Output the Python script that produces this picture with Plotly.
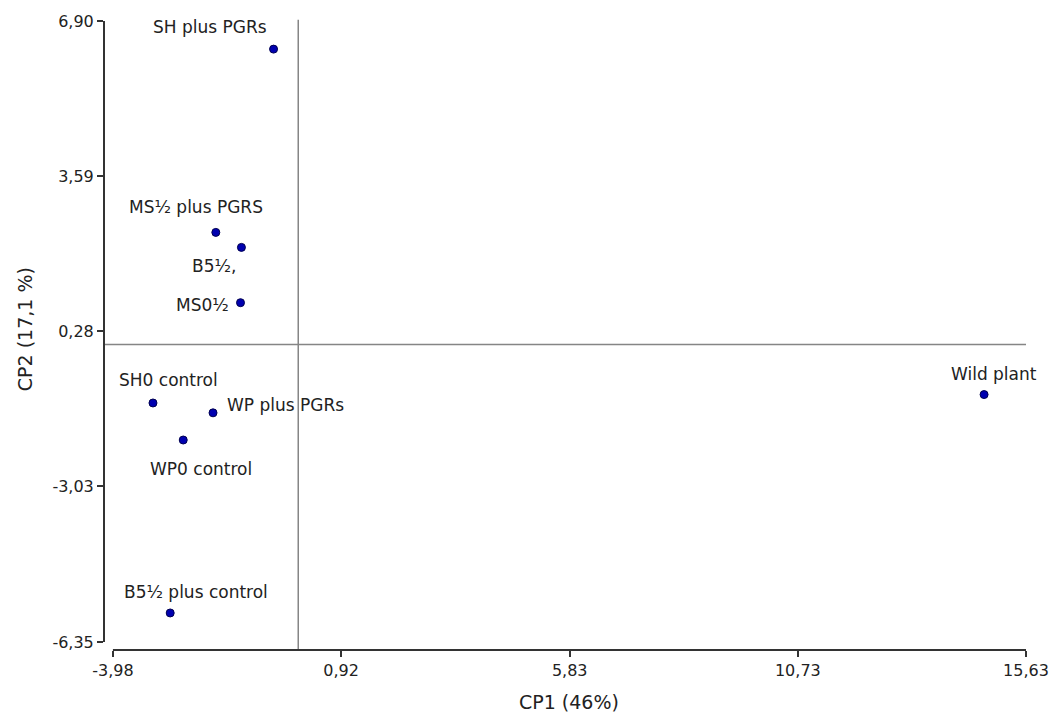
import plotly.graph_objects as go

# ---- data ----
names = ["SH plus PGRs", "MS½ plus PGRS", "B5½,", "MS0½", "SH0 control",
         "WP plus PGRs", "WP0 control", "Wild plant", "B5½ plus control"]
cp1 = [-0.53, -1.77, -1.22, -1.24, -3.12, -1.83, -2.47, 14.73, -2.75]
cp2 = [6.30, 2.39, 2.07, 0.89, -1.25, -1.46, -2.04, -1.07, -5.73]
x_ticks = [-3.98, 0.92, 5.83, 10.73, 15.63]
y_ticks = [-6.35, -3.03, 0.28, 3.59, 6.90]
x_title = "CP1 (46%)"
y_title = "CP2 (17,1 %)"

# ---- label placement (pixel offsets) ----
label_style = [
    dict(xanchor="center", xshift=-64, yshift=22),
    dict(xanchor="center", xshift=-20, yshift=25),
    dict(xanchor="center", xshift=-27, yshift=-19),
    dict(xanchor="right", xshift=-10, yshift=-2),
    dict(xanchor="center", xshift=16, yshift=23),
    dict(xanchor="left", xshift=12, yshift=8),
    dict(xanchor="center", xshift=18, yshift=-29),
    dict(xanchor="center", xshift=10, yshift=21),
    dict(xanchor="center", xshift=26, yshift=21),
]

FONT = "DejaVu Sans"
TXT = "#222222"

def fmt(v):
    return f"{v:.2f}".replace(".", ",")

px_per_unit = 46.97
x_range = [x_ticks[0] - 9 / px_per_unit, x_ticks[-1]]
y_range = [y_ticks[0] - 8 / px_per_unit, y_ticks[-1]]

fig = go.Figure()
fig.add_trace(go.Scatter(
    x=cp1, y=cp2, mode="markers",
    marker=dict(size=8, color="#0000b0", line=dict(color="#000050", width=1)),
    hovertext=names, showlegend=False, cliponaxis=False,
))

for xi, yi, nm, st in zip(cp1, cp2, names, label_style):
    fig.add_annotation(x=xi, y=yi, text=nm, showarrow=False, yanchor="middle",
                       font=dict(family=FONT, size=17, color=TXT), **st)

# reference lines at 0
fig.add_shape(type="line", xref="x", yref="paper", x0=0, x1=0, y0=0, y1=1.002,
              line=dict(color="#858585", width=1.5))
fig.add_shape(type="line", xref="paper", yref="y", x0=0, x1=1, y0=0, y1=0,
              line=dict(color="#858585", width=1.5))
# detached axis lines
fig.add_shape(type="line", xref="paper", yref="y", x0=0, x1=0,
              y0=y_ticks[0], y1=y_ticks[-1], line=dict(color="#333333", width=2))
fig.add_shape(type="line", xref="x", yref="paper", x0=x_ticks[0], x1=x_ticks[-1],
              y0=0, y1=0, line=dict(color="#333333", width=2))

fig.update_xaxes(range=x_range, showgrid=False, zeroline=False, showline=False,
                 tickmode="array", tickvals=x_ticks, ticktext=[fmt(v) for v in x_ticks],
                 ticks="outside", ticklen=6, tickwidth=1.5, tickcolor="#333333",
                 tickfont=dict(family=FONT, size=16, color=TXT))
fig.update_yaxes(range=y_range, showgrid=False, zeroline=False, showline=False,
                 tickmode="array", tickvals=y_ticks, ticktext=[fmt(v) for v in y_ticks],
                 ticks="outside", ticklen=6, tickwidth=1.5, tickcolor="#333333",
                 tickfont=dict(family=FONT, size=16, color=TXT))

fig.add_annotation(xref="paper", yref="paper", x=0.504, y=0, yanchor="middle",
                   yshift=-52, text=x_title, showarrow=False,
                   font=dict(family=FONT, size=19, color=TXT))
fig.add_annotation(xref="paper", yref="paper", x=0, y=0.51, xanchor="center",
                   xshift=-79, text=y_title, textangle=-90, showarrow=False,
                   font=dict(family=FONT, size=19, color=TXT))

fig.update_layout(width=1061, height=713, autosize=False,
                  plot_bgcolor="white", paper_bgcolor="white",
                  margin=dict(l=104, r=27, t=19, b=63), showlegend=False)

fig.write_html(
    "out.html",
    config={"displayModeBar": False, "responsive": False},
    post_script="document.body.style.margin='0';document.body.style.padding='0';"
                "document.body.style.overflow='hidden';"
                "var gd=document.getElementById('{plot_id}');"
                "if(gd&&gd.parentElement){gd.parentElement.style.margin='0';}"
                "Plotly.relayout(gd,{width:1061,height:713});",
)
